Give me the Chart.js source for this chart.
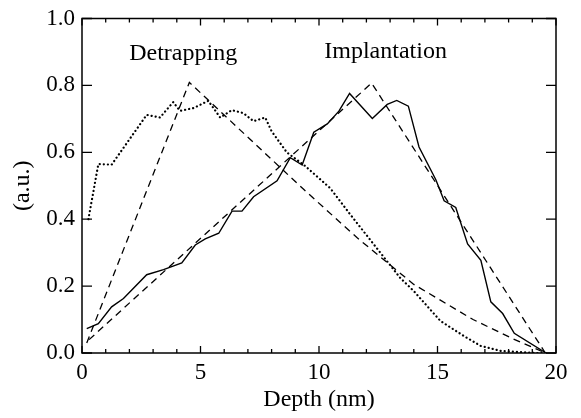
<!DOCTYPE html>
<html>
<head>
<meta charset="utf-8">
<script src="https://cdn.jsdelivr.net/npm/chart.js@4"></script>
<style>
  html, body { margin: 0; padding: 0; background: #fff; }
  #wrap { width: 581px; height: 418px; }
</style>
</head>
<body>
<div id="wrap"><canvas id="c" width="581" height="418"></canvas></div>
<script>
// ---- data ----
const implantX = [0.2,0.69,1.25,1.75,2.73,3.44,4.21,4.78,5.2,5.77,6.33,6.75,7.24,8.23,8.79,9.29,9.78,10.35,10.84,11.29,12.25,12.88,13.28,13.77,14.22,14.93,15.28,15.77,16.27,16.83,17.25,17.75,18.24,19.58];
const implantY = [0.073,0.088,0.138,0.163,0.234,0.249,0.269,0.323,0.341,0.358,0.424,0.424,0.467,0.515,0.584,0.562,0.66,0.685,0.723,0.776,0.701,0.743,0.755,0.738,0.616,0.518,0.455,0.435,0.326,0.277,0.153,0.118,0.059,0.0];

const detrapX = [0.27,0.69,1.25,2.73,3.29,3.85,4.13,4.7,5.33,5.83,6.32,6.81,7.24,7.73,8.0,8.64,9.4,10.04,10.47,11.32,12.43,13.42,14.0,15.12,16.11,16.83,17.68,19.1,19.6];
const detrapY = [0.40,0.565,0.563,0.712,0.704,0.75,0.724,0.732,0.754,0.704,0.726,0.717,0.693,0.704,0.663,0.60,0.56,0.52,0.493,0.414,0.314,0.225,0.185,0.096,0.051,0.021,0.006,0.0,0.0];

const detrapModelX = [0.2, 4.53, 7.0, 9.34, 11.6, 14.0, 16.5, 18.2, 19.55];
const detrapModelY = [0.03, 0.809, 0.645, 0.49, 0.345, 0.205, 0.1, 0.042, 0.0];

const implantModelX = [0.3, 12.22, 19.55];
const implantModelY = [0.04, 0.807, 0.0];

const xTicks = [0, 5, 10, 15, 20];
const yTicks = [0.0, 0.2, 0.4, 0.6, 0.8, 1.0];
const labels = [
  { text: 'Detrapping', x: 4.27, y: 0.896 },
  { text: 'Implantation', x: 12.81, y: 0.9 }
];

const pts = (xs, ys) => xs.map((x, i) => ({ x: x, y: ys[i] }));
const SERIF = '"Liberation Serif", "DejaVu Serif", serif';

const framePlugin = {
  id: 'frame',
  afterDraw(chart) {
    const ctx = chart.ctx;
    const a = chart.chartArea;
    const xs = chart.scales.x, ys = chart.scales.y;
    ctx.save();
    ctx.strokeStyle = '#000';
    ctx.lineWidth = 1.5;
    ctx.strokeRect(a.left, a.top, a.right - a.left, a.bottom - a.top);
    ctx.lineWidth = 1.3;
    ctx.beginPath();
    for (let v = xs.min; v <= xs.max; v += 1) {
      const px = xs.getPixelForValue(v);
      const len = (v % 5 === 0) ? 7 : 4;
      ctx.moveTo(px, a.bottom); ctx.lineTo(px, a.bottom - len);
      ctx.moveTo(px, a.top); ctx.lineTo(px, a.top + len);
    }
    yTicks.forEach(v => {
      const py = ys.getPixelForValue(v);
      ctx.moveTo(a.left, py); ctx.lineTo(a.left + 10, py);
      ctx.moveTo(a.right, py); ctx.lineTo(a.right - 10, py);
    });
    ctx.stroke();
    ctx.fillStyle = '#000';
    ctx.font = '24px ' + SERIF;
    ctx.textAlign = 'center';
    ctx.textBaseline = 'middle';
    labels.forEach(l => {
      ctx.fillText(l.text, xs.getPixelForValue(l.x), ys.getPixelForValue(l.y));
    });
    ctx.restore();
  }
};

new Chart(document.getElementById('c'), {
  type: 'line',
  data: {
    datasets: [
      { label: 'Implantation', data: pts(implantX, implantY), borderColor: '#000', borderWidth: 1.4, pointRadius: 0, tension: 0 },
      { label: 'Detrapping', data: pts(detrapX, detrapY), borderColor: '#000', borderWidth: 2.2, borderDash: [0.1, 4], borderCapStyle: 'round', pointRadius: 0, tension: 0 },
      { label: 'Detrapping model', data: pts(detrapModelX, detrapModelY), borderColor: '#000', borderWidth: 1.3, borderDash: [7, 5], pointRadius: 0, tension: 0 },
      { label: 'Implantation model', data: pts(implantModelX, implantModelY), borderColor: '#000', borderWidth: 1.3, borderDash: [7, 5], pointRadius: 0, tension: 0 }
    ]
  },
  options: {
    responsive: false,
    animation: false,
    devicePixelRatio: 1,
    layout: { padding: { top: 17, right: 25, left: 0, bottom: 0 } },
    plugins: { legend: { display: false }, tooltip: { enabled: false } },
    scales: {
      x: {
        type: 'linear', min: 0, max: 20,
        afterBuildTicks(s) { s.ticks = xTicks.map(v => ({ value: v })); },
        afterFit(s) { s.height = 65; },
        grid: { display: false, drawTicks: false },
        border: { display: false },
        ticks: { color: '#000', font: { family: SERIF, size: 23, lineHeight: 1 }, padding: 8, maxRotation: 0 },
        title: { display: true, text: 'Depth (nm)', color: '#000', font: { family: SERIF, size: 24, lineHeight: 1 }, padding: { top: 0, bottom: 6 } }
      },
      y: {
        type: 'linear', min: 0, max: 1,
        afterBuildTicks(s) { s.ticks = yTicks.map(v => ({ value: v })); },
        afterFit(s) { s.width = 82; },
        grid: { display: false, drawTicks: false },
        border: { display: false },
        ticks: { color: '#000', font: { family: SERIF, size: 23, lineHeight: 1 }, padding: 7, callback: v => Number(v).toFixed(1) },
        title: { display: true, text: '(a.u.)', color: '#000', font: { family: SERIF, size: 24, lineHeight: 1 }, padding: { top: 11, bottom: 0 } }
      }
    }
  },
  plugins: [framePlugin]
});
</script>
</body>
</html>
